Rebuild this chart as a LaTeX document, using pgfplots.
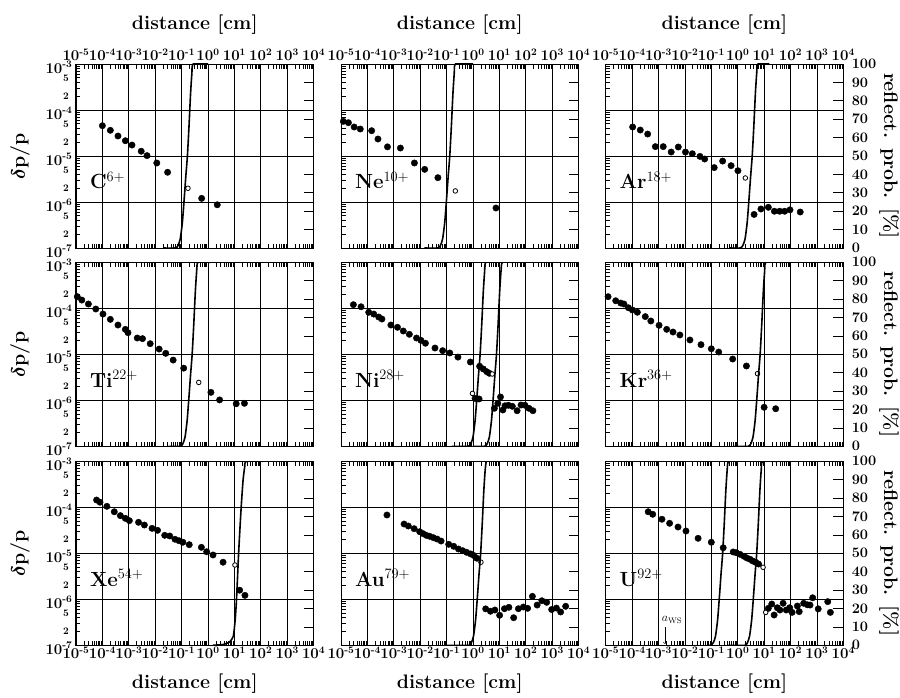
\RequirePackage{fix-cm}
\documentclass[border=0pt]{standalone}
\usepackage{fontspec}
\usepackage{amsmath}
\usepackage{pgfplots}
\pgfplotsset{compat=1.18}
\newcommand{\tk}[1]{$10^{\mbox{\fontsize{10}{10}\selectfont\bfseries #1}}$}
\tikzset{
  elem/.style={anchor=base west, inner sep=0pt, font=\fontsize{20.5}{21}\selectfont\bfseries},
  lab/.style={inner sep=0pt, font=\fontsize{19.5}{22}\selectfont\bfseries},
  smlab/.style={anchor=east, inner sep=0pt, font=\fontsize{10}{10}\selectfont\bfseries},
}
% option lists, expanded in place so that every axis gets them inline
\def\dopts{scale only axis, width=237.6pt, height=184pt,
  xmode=log, ymode=log, xmin=1e-5, xmax=1e4, ymin=1e-7, ymax=1e-3,
  xtick={1e-5,1e-4,1e-3,1e-2,1e-1,1,10,100,1000,10000},
  ytick={1e-7,1e-6,1e-5,1e-4,1e-3},
  minor xtick={2e-5,3e-5,4e-5,5e-5,6e-5,7e-5,8e-5,9e-5,2e-4,3e-4,4e-4,5e-4,6e-4,7e-4,8e-4,9e-4,
    2e-3,3e-3,4e-3,5e-3,6e-3,7e-3,8e-3,9e-3,0.02,0.03,0.04,0.05,0.06,0.07,0.08,0.09,
    0.2,0.3,0.4,0.5,0.6,0.7,0.8,0.9,2,3,4,5,6,7,8,9,20,30,40,50,60,70,80,90,
    200,300,400,500,600,700,800,900,2000,3000,4000,5000,6000,7000,8000,9000},
  minor ytick={2e-7,3e-7,4e-7,5e-7,6e-7,7e-7,8e-7,9e-7,2e-6,3e-6,4e-6,5e-6,6e-6,7e-6,8e-6,9e-6,
    2e-5,3e-5,4e-5,5e-5,6e-5,7e-5,8e-5,9e-5,2e-4,3e-4,4e-4,5e-4,6e-4,7e-4,8e-4,9e-4},
  xtick pos=both, ytick pos=left, tick align=inside,
  grid=major, major grid style={black, line width=0.75pt},
  axis line style={black, line width=1pt},
  major tick length=8pt, minor tick length=4.5pt,
  tick style={black, line width=0.75pt},
  tick label style={font=\fontsize{15}{15}\selectfont\bfseries\boldmath}}
\def\ropts{scale only axis, width=237.6pt, height=184pt,
  xmode=log, xmin=1e-5, xmax=1e4, ymin=0, ymax=100,
  hide x axis, axis y line*=right, ytick={0,10,20,30,40,50,60,70,80,90,100},
  tick align=inside, major tick length=10pt, minor tick num=0,
  tick style={black, line width=0.75pt}, axis line style={black, line width=1pt},
  tick label style={font=\fontsize{14.5}{14.5}\selectfont\bfseries\boldmath},
  yticklabel style={xshift=5pt}}
\def\tlab{xticklabel pos=upper,
  xticklabels={\tk{-5},\tk{-4},\tk{-3},\tk{-2},\tk{-1},\tk{0},\tk{1},\tk{2},\tk{3},\tk{4}}}
\def\blab{xticklabel pos=lower, xticklabel style={yshift=2pt},
  xticklabels={\tk{-5},\tk{-4},\tk{-3},\tk{-2},\tk{-1},\tk{0},\tk{1},\tk{2},\tk{3},\tk{4}}}
\def\llab{yticklabels={\tk{-7},\tk{-6},\tk{-5},\tk{-4},\tk{-3}}, yticklabel style={yshift=-3pt}}
\newcommand{\Xp}[1]{\unexpanded\expandafter{#1}}
\newcommand{\PA}[1]{\edef\axnext{\noexpand\begin{axis}[\Xp{\dopts},#1]}\axnext}
\newcommand{\PR}[1]{\edef\axnext{\noexpand\begin{axis}[\Xp{\ropts},#1]}\axnext}
\begin{document}
\begin{tikzpicture}
\path (0pt,0pt) rectangle (900pt,-698pt);

% ---------- row 1 ----------
\PA{\Xp{\tlab},\Xp{\llab},at={(76pt,-248pt)}}
\addplot[only marks, mark=*, mark size=3.2pt, black] coordinates {(1e-4,4.56e-5)(2.0e-4,3.62e-5)(3.89e-4,2.72e-5)(7.41e-4,2.15e-5)(1.32e-3,1.73e-5)(2.95e-3,1.27e-5)(4.9e-3,1.02e-5)(1.15e-2,7.05e-6)(2.95e-2,4.43e-6)(0.575,1.20e-6)(2.24,8.7e-7)};
\addplot[only marks, mark=*, mark size=2.3pt, mark options={fill=white, draw=black, line width=0.8pt}] coordinates {(0.174,1.99e-6)};
\end{axis}
\PR{yticklabels={},at={(76pt,-248pt)}}
\addplot[black, line width=1.6pt, smooth, tension=0.35, no markers] coordinates {(0.01995,0)(0.05888,0)(0.07413,1.5)(0.08913,5)(0.1072,14)(0.1259,27)(0.1445,39)(0.1660,50)(0.1905,66)(0.2188,84)(0.2455,95)(0.2754,100)(1,100)};
\end{axis}

\PA{\Xp{\tlab},yticklabels={},at={(341pt,-248pt)}}
\addplot[only marks, mark=*, mark size=3.2pt, black] coordinates {(1.23e-5,5.67e-5)(1.91e-5,5.3e-5)(3.16e-5,4.27e-5)(5.37e-5,3.86e-5)(1.45e-4,3.55e-5)(2.51e-4,2.34e-5)(5.75e-4,1.58e-5)(1.78e-3,1.49e-5)(6.03e-3,7.05e-6)(1.48e-2,5.13e-6)(4.68e-2,3.38e-6)(7.41,7.4e-7)};
\addplot[only marks, mark=*, mark size=2.3pt, mark options={fill=white, draw=black, line width=0.8pt}] coordinates {(0.214,1.74e-6)};
\end{axis}
\PR{yticklabels={},at={(341pt,-248pt)}}
\addplot[black, line width=1.6pt, smooth, tension=0.35, no markers] coordinates {(0.01445,0)(0.04677,0)(0.05888,1.5)(0.07079,5)(0.08511,14)(0.1,27)(0.1148,39)(0.1318,50)(0.1514,66)(0.1738,84)(0.1950,95)(0.2188,100)(1,100)};
\end{axis}

\PA{\Xp{\tlab},yticklabels={},at={(605.7pt,-248pt)}}
\addplot[only marks, mark=*, mark size=3.2pt, black] coordinates {(1.05e-4,4.27e-5)(2.04e-4,3.67e-5)(3.89e-4,3.0e-5)(7.59e-4,1.6e-5)(1.51e-3,1.6e-5)(3.02e-3,1.22e-5)(5.62e-3,1.57e-5)(1.05e-2,1.22e-5)(1.91e-2,1.12e-5)(3.72e-2,9.8e-6)(5.62e-2,8.6e-6)(0.129,5.6e-6)(0.269,7.76e-6)(0.562,6.17e-6)(1.02,4.79e-6)(4.17,5.37e-7)(7.59,7.05e-7)(14.5,7.67e-7)(24.5,6.3e-7)(38.9,6.3e-7)(60.3,6.3e-7)(95.5,6.76e-7)(234,6.06e-7)};
\addplot[only marks, mark=*, mark size=2.3pt, mark options={fill=white, draw=black, line width=0.8pt}] coordinates {(1.95,3.33e-6)};
\end{axis}
\PR{at={(605.7pt,-248pt)}}
\addplot[black, line width=1.6pt, smooth, tension=0.35, no markers] coordinates {(0.5129,0)(1.259,0)(1.585,1.5)(1.905,5)(2.291,14)(2.692,27)(3.090,39)(3.548,50)(4.074,66)(4.677,84)(5.248,95)(5.888,100)(15.85,100)};
\end{axis}

% ---------- row 2 ----------
\PA{xticklabels={},\Xp{\llab},at={(76pt,-446.3pt)}}
\addplot[only marks, mark=*, mark size=3.2pt, black] coordinates {(1.12e-5,1.79e-4)(1.66e-5,1.51e-4)(2.95e-5,1.24e-4)(5.62e-5,9.66e-5)(1.05e-4,7.5e-5)(2.0e-4,5.75e-5)(3.89e-4,4.33e-5)(7.41e-4,3.49e-5)(9.33e-4,2.95e-5)(2.09e-3,2.26e-5)(3.31e-3,2.19e-5)(6.46e-3,1.7e-5)(1.41e-2,1.3e-5)(2.51e-2,1.05e-5)(4.79e-2,7.5e-6)(0.120,5.0e-6)(1.29,1.49e-6)(2.75,1.02e-6)(11.7,8.4e-7)(24.0,8.6e-7)};
\addplot[only marks, mark=*, mark size=2.3pt, mark options={fill=white, draw=black, line width=0.8pt}] coordinates {(0.447,2.45e-6)};
\end{axis}
\PR{yticklabels={},at={(76pt,-446.3pt)}}
\addplot[black, line width=1.6pt, smooth, tension=0.35, no markers] coordinates {(0.03162,0)(0.08913,0)(0.1122,1.5)(0.1349,5)(0.1622,14)(0.1905,27)(0.2188,39)(0.2512,50)(0.2884,66)(0.3311,84)(0.3715,95)(0.4169,100)(1.259,100)};
\end{axis}

\PA{xticklabels={},yticklabels={},at={(341pt,-446.3pt)}}
\addplot[only marks, mark=*, mark size=3.2pt, black] coordinates {(2.95e-5,1.2e-4)(5.75e-5,1.08e-4)(1.12e-4,8.2e-5)(1.74e-4,7.5e-5)(2.69e-4,6.46e-5)(3.55e-4,5.85e-5)(7.76e-4,4.33e-5)(1.38e-3,3.86e-5)(2.29e-3,3.21e-5)(3.89e-3,2.72e-5)(7.24e-3,2.26e-5)(1.07e-2,2.01e-5)(1.58e-2,1.74e-5)(3.63e-2,1.37e-5)(7.08e-2,1.2e-5)(0.132,1.07e-5)(0.269,8.7e-6)(0.794,6.8e-6)(1.78,5.5e-6)(2.45,4.8e-6)(3.31,4.19e-6)(4.17,3.86e-6)(1.20,1.1e-6)(1.70,1.07e-6)(6.46,6.7e-7)(8.71,8.6e-7)(11.0,1.18e-6)(13.5,6.16e-7)(16.2,7.6e-7)(21.9,7.8e-7)(30.9,7.4e-7)(46.8,5.94e-7)(66.1,7.9e-7)(93.3,7.8e-7)(132,6.7e-7)(186,5.94e-7)};
\addplot[only marks, mark=*, mark size=2.3pt, mark options={fill=white, draw=black, line width=0.8pt}] coordinates {(5.37,3.73e-6)(0.955,1.41e-6)};
\end{axis}
\PR{yticklabels={},at={(341pt,-446.3pt)}}
\addplot[black, line width=1.6pt, smooth, tension=0.35, no markers] coordinates {(0.1549,0)(0.6607,0)(0.8318,1.5)(1,5)(1.202,14)(1.413,27)(1.622,39)(1.862,50)(2.138,66)(2.455,84)(2.754,95)(3.090,100)(10.47,100)};
\addplot[black, line width=1.6pt, smooth, tension=0.35, no markers] coordinates {(1,0)(2.754,0)(3.467,1.5)(4.169,5)(5.012,14)(5.888,27)(6.761,39)(7.762,50)(8.913,66)(10.23,84)(11.48,95)(12.88,100)(29.51,100)};
\end{axis}

\PA{xticklabels={},yticklabels={},at={(605.7pt,-446.3pt)}}
\addplot[only marks, mark=*, mark size=3.2pt, black] coordinates {(1.23e-5,1.79e-4)(2.40e-5,1.46e-4)(3.72e-5,1.3e-4)(4.90e-5,1.24e-4)(7.24e-5,1.03e-4)(1.02e-4,9.2e-5)(1.58e-4,8.2e-5)(3.16e-4,6.6e-5)(5.13e-4,5.3e-5)(1.05e-3,4.27e-5)(2.04e-3,3.49e-5)(3.55e-3,3.05e-5)(6.46e-3,2.63e-5)(1.55e-2,2.05e-5)(4.07e-2,1.62e-5)(0.1,1.32e-5)(0.191,1.12e-5)(0.646,7.9e-6)(2.14,5.57e-6)(10.0,7.05e-7)(27.5,6.56e-7)};
\addplot[only marks, mark=*, mark size=2.3pt, mark options={fill=white, draw=black, line width=0.8pt}] coordinates {(5.62,3.8e-6)};
\end{axis}
\PR{at={(605.7pt,-446.3pt)}}
\addplot[black, line width=1.6pt, smooth, tension=0.35, no markers] coordinates {(0.6761,0)(2.512,0)(3.162,1.5)(3.802,5)(4.571,14)(5.370,27)(6.166,39)(7.079,50)(8.128,66)(9.333,84)(10.47,95)(11.75,100)(46.77,100)};
\end{axis}

% ---------- row 3 ----------
\PA{\Xp{\blab},\Xp{\llab},at={(76pt,-645.3pt)}}
\addplot[only marks, mark=*, mark size=3.2pt, black] coordinates {(6.03e-5,1.44e-4)(8.13e-5,1.29e-4)(1.48e-4,1.05e-4)(2.82e-4,8.0e-5)(4.79e-4,6.6e-5)(7.41e-4,5.75e-5)(1.05e-3,5.13e-5)(2.34e-3,4.72e-5)(3.89e-3,4.12e-5)(7.59e-3,3.49e-5)(1.23e-2,3.16e-5)(2.29e-2,2.46e-5)(3.55e-2,2.38e-5)(5.62e-2,2.02e-5)(7.94e-2,1.88e-5)(0.112,1.74e-5)(0.195,1.54e-5)(0.562,1.35e-5)(0.891,1.08e-5)(1.55,9.2e-6)(3.72,6.4e-6)(15.8,1.58e-6)(25.1,1.22e-6)};
\addplot[only marks, mark=*, mark size=2.3pt, mark options={fill=white, draw=black, line width=0.8pt}] coordinates {(10.5,5.57e-6)};
\end{axis}
\PR{yticklabels={},at={(76pt,-645.3pt)}}
\addplot[black, line width=1.6pt, smooth, tension=0.35, no markers] coordinates {(1.549,0)(3.981,0.5)(6.761,2)(9.120,5)(10.72,14)(12.02,25)(14.45,50)(16.60,66)(18.62,78)(21.38,90)(24.55,97)(27.54,100)(120.2,100)};
\end{axis}

\PA{\Xp{\blab},yticklabels={},at={(341pt,-645.3pt)}}
\addplot[only marks, mark=*, mark size=3.2pt, black] coordinates {(5.5e-4,6.8e-5)(2.45e-3,4.33e-5)(3.55e-3,3.92e-5)(5.89e-3,3.43e-5)(9.55e-3,2.95e-5)(1.29e-2,2.67e-5)(1.70e-2,2.46e-5)(2.29e-2,2.34e-5)(3.16e-2,2.19e-5)(4.37e-2,2.04e-5)(6.17e-2,1.85e-5)(0.120,1.57e-5)(0.186,1.42e-5)(0.282,1.24e-5)(0.407,1.14e-5)(0.575,1.05e-5)(0.813,9.7e-6)(1.10,8.9e-6)(1.41,7.8e-6)(3.02,6.2e-7)(4.57,5.5e-7)(6.76,5.85e-7)(10.2,4.49e-7)(15.5,6.25e-7)(22.9,6.7e-7)(34.7,3.98e-7)(52.5,6.25e-7)(81.3,6.8e-7)(117,6.37e-7)(178,1.16e-6)(269,7.5e-7)(407,9.3e-7)(617,8.6e-7)(955,6.0e-7)(1445,6.45e-7)(2089,5.3e-7)(3236,7.05e-7)};
\addplot[only marks, mark=*, mark size=2.3pt, mark options={fill=white, draw=black, line width=0.8pt}] coordinates {(2.0,6.4e-6)};
\end{axis}
\PR{yticklabels={},at={(341pt,-645.3pt)}}
\addplot[black, line width=1.6pt, smooth, tension=0.35, no markers] coordinates {(0.1,0)(0.6918,0)(0.8710,1.5)(1.047,5)(1.259,14)(1.479,27)(1.698,39)(1.950,50)(2.239,66)(2.570,84)(2.884,95)(3.236,100)(5.012,100)};
\end{axis}

\PA{\Xp{\blab},yticklabels={},at={(605.7pt,-645.3pt)}}
\addplot[only marks, mark=*, mark size=3.2pt, black] coordinates {(4.07e-4,8.0e-5)(6.03e-4,7.05e-5)(1.35e-3,5.5e-5)(2.63e-3,4.49e-5)(5.5e-3,3.73e-5)(1.1e-2,3.05e-5)(3.16e-2,2.12e-5)(0.1,1.74e-5)(0.282,1.32e-5)(0.676,1.07e-5)(0.891,1.03e-5)(1.23,9.5e-6)(1.74,8.6e-6)(2.24,7.9e-6)(2.95,7.4e-6)(3.72,6.8e-6)(4.79,6.4e-6)(6.17,5.85e-6)(14.5,6.37e-7)(19.5,7.9e-7)(24.0,4.56e-7)(31.6,6.56e-7)(39.8,5.85e-7)(52.5,8.2e-7)(69.2,5.85e-7)(93.3,6.56e-7)(115,5.2e-7)(182,7.15e-7)(214,5.4e-7)(316,8.2e-7)(437,7.6e-7)(550,7.5e-7)(692,1.08e-6)(1122,6.2e-7)(2570,8.9e-7)(3236,5.2e-7)};
\addplot[only marks, mark=*, mark size=2.3pt, mark options={fill=white, draw=black, line width=0.8pt}] coordinates {(9.12,4.97e-6)(11.5,5.2e-7)};
\end{axis}
\PR{at={(605.7pt,-645.3pt)}}
\addplot[black, line width=1.6pt, smooth, tension=0.35, no markers] coordinates {(0.06761,0)(0.09550,0)(0.1202,1.5)(0.1445,5)(0.1738,14)(0.2042,27)(0.2344,39)(0.2692,50)(0.3090,66)(0.3548,84)(0.3981,95)(0.4467,100)(1.047,100)};
\addplot[black, line width=1.6pt, smooth, tension=0.35, no markers] coordinates {(0.4365,0)(1.862,0)(2.344,1.5)(2.818,5)(3.388,14)(3.981,27)(4.571,39)(5.248,50)(6.026,66)(6.918,84)(7.762,95)(8.710,100)(28.18,100)};
\end{axis}

% ---------- panel names and annotation ----------
\node[elem] at (89.8pt,-188.8pt) {C$^{6+}$};
\node[elem] at (354.8pt,-188.8pt) {Ne$^{10+}$};
\node[elem] at (619.5pt,-188.8pt) {Ar$^{18+}$};
\node[elem] at (89.8pt,-387.1pt) {Ti$^{22+}$};
\node[elem] at (354.8pt,-387.1pt) {Ni$^{28+}$};
\node[elem] at (619.5pt,-387.1pt) {Kr$^{36+}$};
\node[elem] at (89.8pt,-586.1pt) {Xe$^{54+}$};
\node[elem] at (354.8pt,-586.1pt) {Au$^{79+}$};
\node[elem] at (619.5pt,-586.1pt) {U$^{92+}$};
\node[inner sep=0pt, font=\fontsize{12}{12}\selectfont] at (672pt,-620pt) {$a_{\mathrm{WS}}$};
\draw[->, line width=0.5pt] (665pt,-627pt) -- (665pt,-644pt);

% ---------- small 5 / 2 labels on the left axes ----------
\foreach \T in {64,262.3,461.3} {
  \foreach \o/\t in {13.85/5,32.15/2,59.85/5,78.15/2,105.85/5,124.15/2,151.85/5,170.15/2} {
    \node[smlab] at (69pt,-\T pt-\o pt) {\t};
  }
}

% ---------- axis titles ----------
\foreach \cx in {194.8,459.8,724.5} {
  \node[lab, anchor=base] at (\cx pt,-29.5pt) {distance [cm]};
  \node[lab, anchor=base] at (\cx pt,-688pt) {distance [cm]};
}
\foreach \cy in {156,354.3,553.3} {
  \node[lab, rotate=90] at (20pt,-\cy pt) {{\boldmath$\delta$}p/p};
  \node[lab, rotate=-90] at (889pt,-\cy pt) {reflect. prob. [\%]};
}
\end{tikzpicture}
\end{document}
